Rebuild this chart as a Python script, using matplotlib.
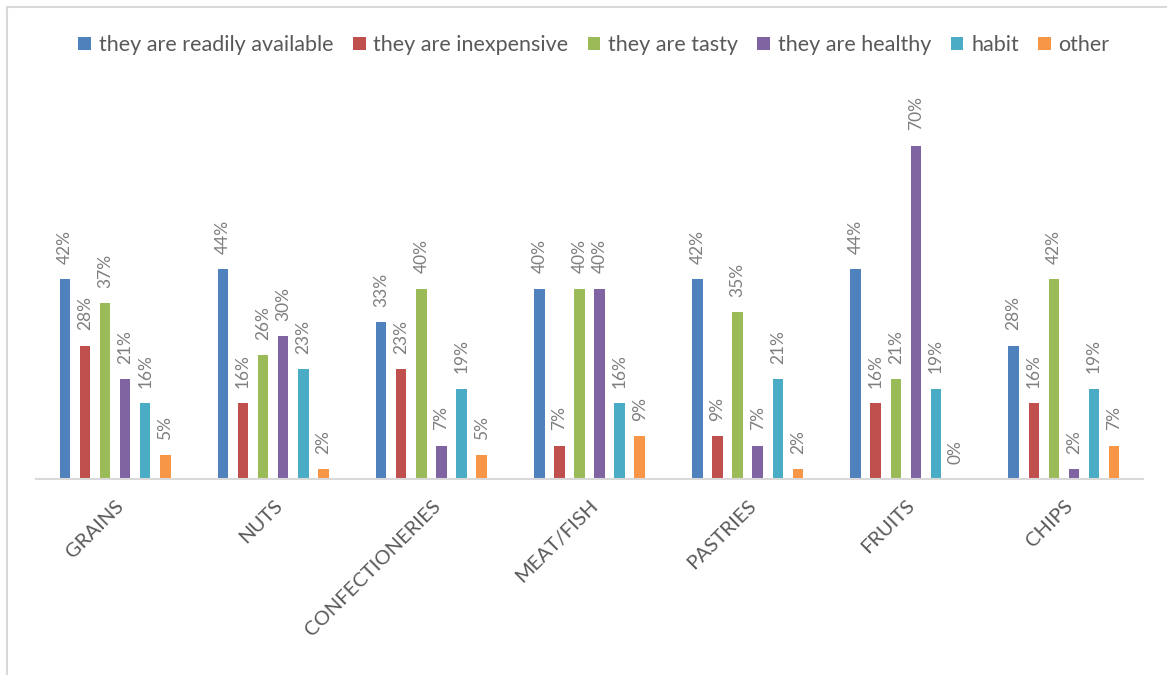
import numpy as np
import matplotlib
matplotlib.use("Agg")
import matplotlib.pyplot as plt
from matplotlib.lines import Line2D

categories = ["GRAINS", "NUTS", "CONFECTIONERIES", "MEAT/FISH", "PASTRIES", "FRUITS", "CHIPS"]
series = ["they are readily available", "they are inexpensive", "they are tasty",
          "they are healthy", "habit", "other"]
readily_available = [42, 44, 33, 40, 42, 44, 28]
inexpensive = [28, 16, 23, 7, 9, 16, 16]
tasty = [37, 26, 40, 40, 35, 21, 42]
healthy = [21, 30, 7, 40, 7, 70, 2]
habit = [16, 23, 19, 16, 21, 19, 19]
other = [5, 2, 5, 9, 2, 0, 7]

colors = ["#4F81BD", "#C0504D", "#9BBB59", "#8064A2", "#4BACC6", "#F79646"]
plt.rcParams["font.family"] = ["Lato", "DejaVu Sans"]

fig = plt.figure(figsize=(11.67, 6.75), dpi=100)
ax = fig.add_axes([36 / 1167, 1 - 479 / 675, (1143 - 36) / 1167, 381 / 675])

x = np.arange(len(categories))
step = 0.127
width = 0.066
data = [readily_available, inexpensive, tasty, healthy, habit, other]
for j, (name, vals) in enumerate(zip(series, data)):
    pos = x + (j - 2.5) * step
    ax.bar(pos, vals, width, color=colors[j], label=name)
    for p, v in zip(pos, vals):
        ax.annotate(f"{v}%", (p, v), xytext=(0, 11), textcoords="offset points",
                    rotation=90, ha="center", va="bottom", fontsize=12.5, color="#7F7F7F")

ax.set_xlim(-0.5, len(categories) - 0.5)
ax.set_ylim(0, 80)
ax.set_yticks([])
for s in ["top", "right", "left"]:
    ax.spines[s].set_visible(False)
ax.spines["bottom"].set_color("#D9D9D9")
ax.spines["bottom"].set_linewidth(1.5)
ax.set_xticks(x)
ax.set_xticklabels(categories, rotation=45, ha="right", rotation_mode="anchor",
                   fontsize=14.5, color="#595959")
ax.tick_params(axis="x", length=0, pad=13)

fig.legend(loc="center", bbox_to_anchor=(0.509, 1 - 45 / 675), ncol=6, frameon=False,
           fontsize=15.5, labelcolor="#595959", handlelength=0.6, handleheight=0.6,
           handletextpad=0.35, columnspacing=0.9)

fig.add_artist(Line2D([7 / 1167, 7 / 1167], [0, 1 - 7 / 675], transform=fig.transFigure,
                      color="#D9D9D9", linewidth=1.5))
fig.add_artist(Line2D([7 / 1167, 1], [1 - 7 / 675, 1 - 7 / 675], transform=fig.transFigure,
                      color="#D9D9D9", linewidth=1.5))

fig.savefig("out.png", dpi=100)
